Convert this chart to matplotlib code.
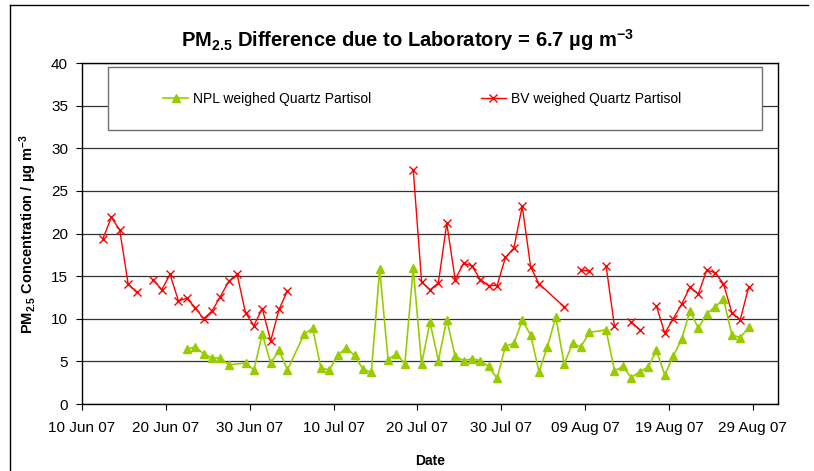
import matplotlib
matplotlib.use('Agg')
import matplotlib.pyplot as plt
import matplotlib.dates as mdates
from matplotlib.patches import Rectangle
from matplotlib.lines import Line2D
import numpy as np
import pandas as pd

plt.rcParams['font.family'] = ['Liberation Sans', 'DejaVu Sans']
plt.rcParams['mathtext.default'] = 'regular'

# NPL weighed Quartz Partisol (µg m-3)
npl_dates = ['2007-06-22', '2007-06-23', '2007-06-24', '2007-06-25', '2007-06-26', '2007-06-27',
             '2007-06-29', '2007-06-30', '2007-07-01', '2007-07-02', '2007-07-03', '2007-07-04',
             '2007-07-06', '2007-07-07', '2007-07-08', '2007-07-09', '2007-07-10', '2007-07-11',
             '2007-07-12', '2007-07-13', '2007-07-14', '2007-07-15', '2007-07-16', '2007-07-17',
             '2007-07-18', '2007-07-19', '2007-07-20', '2007-07-21', '2007-07-22', '2007-07-23',
             '2007-07-24', '2007-07-25', '2007-07-26', '2007-07-27', '2007-07-28', '2007-07-29',
             '2007-07-30', '2007-07-31', '2007-08-01', '2007-08-02', '2007-08-03', '2007-08-04',
             '2007-08-05', '2007-08-06', '2007-08-07', '2007-08-08', '2007-08-09', '2007-08-11',
             '2007-08-12', '2007-08-13', '2007-08-14', '2007-08-15', '2007-08-16', '2007-08-17',
             '2007-08-18', '2007-08-19', '2007-08-20', '2007-08-21', '2007-08-22', '2007-08-23',
             '2007-08-24', '2007-08-25', '2007-08-26', '2007-08-27', '2007-08-28']
npl_values = [6.45, 6.7, 5.9, 5.4, 5.4, 4.6,
              4.8, 4.0, 8.2, 4.8, 6.3, 4.0,
              8.2, 8.9, 4.2, 4.0, 5.7, 6.6,
              5.7, 4.1, 3.7, 15.8, 5.2, 5.9,
              4.7, 15.9, 4.7, 9.6, 5.1, 9.9,
              5.6, 5.1, 5.3, 5.1, 4.4, 3.0,
              6.8, 7.1, 9.8, 8.1, 3.8, 6.7,
              10.2, 4.7, 7.1, 6.7, 8.4, 8.7,
              3.9, 4.4, 3.1, 3.8, 4.3, 6.3,
              3.4, 5.6, 7.6, 10.9, 8.9, 10.6,
              11.4, 12.3, 8.1, 7.8, 9.0]

# BV weighed Quartz Partisol (µg m-3), None = missing day (line break)
bv_dates = ['2007-06-12', '2007-06-13', '2007-06-14', '2007-06-15', '2007-06-16', '2007-06-17',
            '2007-06-18', '2007-06-19', '2007-06-20', '2007-06-21', '2007-06-22', '2007-06-23',
            '2007-06-24', '2007-06-25', '2007-06-26', '2007-06-27', '2007-06-28', '2007-06-29',
            '2007-06-30', '2007-07-01', '2007-07-02', '2007-07-03', '2007-07-04', '2007-07-05',
            '2007-07-19', '2007-07-20', '2007-07-21', '2007-07-22', '2007-07-23', '2007-07-24',
            '2007-07-25', '2007-07-26', '2007-07-27', '2007-07-28', '2007-07-29', '2007-07-30',
            '2007-07-31', '2007-08-01', '2007-08-02', '2007-08-03', '2007-08-06', '2007-08-07',
            '2007-08-08', '2007-08-09', '2007-08-10', '2007-08-11', '2007-08-12', '2007-08-13',
            '2007-08-14', '2007-08-15', '2007-08-16', '2007-08-17', '2007-08-18', '2007-08-19',
            '2007-08-20', '2007-08-21', '2007-08-22', '2007-08-23', '2007-08-24', '2007-08-25',
            '2007-08-26', '2007-08-27', '2007-08-28']
bv_values = [19.4, 21.9, 20.4, 14.1, 13.1, None,
             14.6, 13.4, 15.2, 12.1, 12.4, 11.3,
             10.0, 10.9, 12.6, 14.4, 15.2, 10.7,
             9.2, 11.2, 7.4, 11.1, 13.3, None,
             27.5, 14.3, 13.4, 14.2, 21.2, 14.6,
             16.5, 16.2, 14.6, 13.9, 13.9, 17.2,
             18.3, 23.2, 16.1, 14.1, 11.4, None,
             15.7, 15.6, None, 16.2, 9.1, None,
             9.6, 8.7, None, 11.5, 8.3, 10.0,
             11.7, 13.7, 12.9, 15.7, 15.4, 14.1,
             10.7, 9.9, 13.7]

title = 'PM$_{2.5}$ Difference due to Laboratory = 6.7 µg m$^{-3}$'
y_label = 'PM$_{2.5}$ Concentration / µg m$^{-3}$'
x_label = 'Date'
npl_label = 'NPL weighed Quartz Partisol'
bv_label = 'BV weighed Quartz Partisol'

green = '#99cc00'
red = '#ff0000'


def to_x(dates):
    # excel puts each day's point in the middle of the day
    return pd.to_datetime(dates) + pd.Timedelta(hours=12)


fig = plt.figure(figsize=(8.14, 4.71), dpi=100)
ax = fig.add_axes([82 / 814, 1 - 404 / 471, 696 / 814, 341 / 471])

npl_y = np.array(npl_values, dtype=float)
bv_y = np.array([np.nan if v is None else v for v in bv_values], dtype=float)

ax.plot(to_x(npl_dates), npl_y, color=green, lw=1.2, marker='^', ms=6,
        mec=green, mfc=green, label=npl_label, zorder=4)
ax.plot(to_x(bv_dates), bv_y, color=red, lw=1.0, marker='x', ms=5.5,
        mew=1.0, label=bv_label, zorder=4)

ax.set_ylim(0, 40)
ax.set_yticks(np.arange(0, 41, 5))
ax.set_xlim(pd.Timestamp('2007-06-10'), pd.Timestamp('2007-09-01'))
ax.set_xticks(pd.date_range('2007-06-10', periods=9, freq='10D'))
ax.xaxis.set_major_formatter(mdates.DateFormatter('%d %b %y'))

ax.grid(axis='y', color='#333333', lw=0.9)
ax.set_axisbelow(True)
for s in ax.spines.values():
    s.set_color('black')
    s.set_linewidth(1.0)
ax.tick_params(axis='both', direction='out', length=4, width=0.8, labelsize=11, colors='black')
ax.tick_params(axis='y', pad=6)
ax.tick_params(axis='x', pad=8)

ax.set_xlabel(x_label, fontsize=10, fontweight='bold', labelpad=14)
ax.set_ylabel(y_label, fontsize=10.5, fontweight='bold', labelpad=9)

fig.text(0.5, 1 - 40 / 471, title, ha='center', va='center', fontsize=14.5, fontweight='bold')

# legend box
box = Rectangle((26 / 696, (404 - 130) / 341), 654 / 696, 63 / 341, transform=ax.transAxes,
                facecolor='white', edgecolor='#707070', lw=1.0, zorder=5)
ax.add_patch(box)
leg = ax.legend(loc='center left', bbox_to_anchor=((163 - 82) / 696, (404 - 99) / 341),
                ncol=2, frameon=False, fontsize=10, handlelength=1.8, handletextpad=0.35,
                columnspacing=7.9, borderpad=0, borderaxespad=0)
leg.set_zorder(6)

# chart frame (top and left edges visible)
fig.add_artist(Line2D([10 / 814, 808 / 814], [1 - 5 / 471, 1 - 5 / 471],
                      transform=fig.transFigure, color='black', lw=1.0))
fig.add_artist(Line2D([10 / 814, 10 / 814], [0, 1 - 5 / 471],
                      transform=fig.transFigure, color='black', lw=1.0))

fig.savefig('out.png', dpi=100)
